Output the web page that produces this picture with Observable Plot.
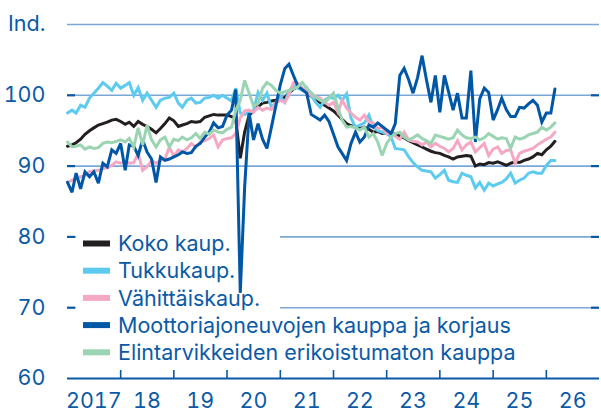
<!DOCTYPE html>
<html><head><meta charset="utf-8">
<script src="https://cdn.jsdelivr.net/npm/d3@7"></script>
<script src="https://cdn.jsdelivr.net/npm/@observablehq/plot@0.6"></script>
<style>
html,body{margin:0;padding:0;background:#fff;}
#chart{width:601px;height:414px;overflow:hidden}
</style></head><body><div id="chart"></div>
<script>
// Monthly index values, starting January 2017
const startYear = 2017;
const koko = [
  92.8, 93.0, 93.3, 93.8, 94.5, 95.0, 95.4, 95.8, 96.0, 96.2, 96.5, 96.6,
  96.3, 95.9, 96.2, 95.6, 96.3, 95.9, 95.6, 95.2, 94.7, 95.3, 96.0, 96.8,
  96.4, 95.6, 95.8, 96.0, 96.3, 96.2, 96.3, 96.9, 97.1, 97.3, 97.2, 97.2,
  97.2, 97.0, 96.6, 91.1, 94.8, 97.2, 97.8, 98.4, 98.9, 99.0, 99.2, 99.3,
  99.5, 99.7, 100.3, 100.9, 101.2, 100.8, 100.4, 99.9, 99.4, 99.0, 98.6, 98.2,
  97.8, 97.2, 96.6, 96.0, 95.7, 95.6, 95.3, 95.5, 95.2, 94.8, 94.9, 94.6,
  94.7, 94.5, 94.6, 94.2, 94.0, 93.6, 93.3, 93.0, 92.7, 92.4, 92.1, 91.9,
  91.8, 91.5, 91.3, 91.0, 91.3, 91.4, 91.5, 91.4, 90.0, 90.3, 90.2, 90.5,
  90.4, 90.6, 90.4, 90.1, 90.4, 90.6, 90.5, 90.8, 91.0, 91.3, 91.8, 91.6,
  92.3, 92.8, 93.5
];
const tukku = [
  97.5, 97.9, 97.5, 98.6, 98.3, 99.6, 100.3, 101.0, 101.8, 101.3, 100.7, 101.7,
  101.0, 101.4, 101.8, 100.0, 101.1, 99.3, 100.3, 99.3, 98.3, 99.3, 99.6, 99.7,
  100.3, 98.9, 98.3, 99.3, 99.6, 98.9, 99.0, 99.6, 99.7, 100.0, 99.6, 100.0,
  99.6, 99.2, 101.0, 97.5, 97.3, 97.6, 97.8, 100.4, 99.3, 100.3, 98.3, 99.0,
  99.8, 99.0, 100.5, 101.5, 101.0, 100.7, 101.1, 100.0, 99.0, 98.3, 99.3, 99.7,
  99.6, 100.0, 99.3, 100.2, 96.8, 95.5, 95.8, 96.1, 97.2, 95.5, 95.0, 94.8,
  94.6, 94.1, 92.5, 92.4, 92.3, 91.3, 90.5, 89.9, 89.4, 89.3, 89.2, 88.3,
  88.8, 89.4, 88.0, 87.8, 87.7, 89.0, 88.7, 88.5, 86.9, 87.7, 86.6, 87.6,
  87.2, 87.5, 87.7, 88.2, 89.0, 87.6, 88.0, 88.3, 89.0, 89.2, 89.0, 89.0,
  90.1, 90.8, 90.8
];
const vahittais = [
  87.7, 88.0, 88.3, 88.5, 88.7, 89.2, 89.3, 89.4, 89.6, 89.8, 90.1, 90.6,
  90.4, 90.6, 90.4, 90.5, 91.8, 89.4, 89.9, 90.8, 90.4, 90.8, 91.0, 92.7,
  91.4, 92.3, 92.0, 92.5, 93.2, 92.7, 93.4, 93.6, 93.9, 94.4, 92.7, 93.7,
  93.9, 94.0, 94.6, 96.8, 97.8, 97.9, 97.6, 98.3, 97.9, 98.2, 98.0, 98.9,
  99.3, 99.0, 100.0, 101.8, 101.7, 101.0, 100.6, 100.0, 99.8, 99.6, 99.0, 98.6,
  99.0, 97.6, 99.3, 98.2, 97.5, 96.9, 96.5, 97.2, 96.2, 96.1, 95.3, 95.5,
  94.6, 94.8, 94.2, 93.8, 94.8, 93.7, 93.5, 93.4, 93.0, 93.4, 92.7, 93.2,
  92.8, 92.5, 92.0, 92.5, 93.6, 92.3, 93.0, 93.4, 92.0, 92.6, 93.2, 91.5,
  92.4, 92.7, 91.8, 92.2, 92.3, 90.4, 91.8, 92.1, 92.3, 92.5, 93.0, 93.4,
  93.8, 94.1, 94.8
];
const moottori = [
  87.7, 86.3, 89.0, 86.8, 89.2, 88.5, 89.2, 87.6, 90.4, 89.9, 92.3, 91.8,
  93.2, 89.4, 93.0, 92.8, 91.5, 93.7, 92.0, 91.0, 87.7, 91.3, 90.8, 91.0,
  91.3, 91.6, 92.0, 91.8, 91.9, 92.8, 93.2, 94.1, 94.8, 96.1, 95.4, 95.6,
  97.2, 97.9, 100.8, 72.1, 87.0, 97.5, 93.7, 96.0, 93.8, 92.5, 95.5, 98.5,
  101.5, 103.8, 104.4, 102.8, 101.3, 100.8, 100.3, 97.3, 96.9, 96.5, 97.2, 96.3,
  94.5, 92.7, 91.8, 90.8, 93.2, 94.8, 93.4, 94.1, 95.8, 95.5, 96.1, 95.6,
  95.1, 94.6, 96.0, 102.8, 103.8, 102.2, 100.3, 102.5, 105.6, 102.2, 99.0, 102.8,
  97.6, 102.8, 100.5, 97.9, 100.3, 96.8, 96.8, 103.5, 93.4, 99.5, 101.0, 100.4,
  96.5, 98.0, 99.6, 98.0, 97.0, 97.0, 98.3, 98.2, 98.8, 99.3, 98.6, 96.2,
  97.5, 97.5, 100.9
];
const elintarvike = [
  93.4, 92.7, 92.8, 93.0, 92.4, 92.7, 92.5, 92.6, 93.2, 93.4, 93.3, 93.5,
  93.7, 93.4, 93.9, 92.7, 95.4, 93.0, 95.8, 93.7, 92.7, 93.7, 94.1, 92.7,
  93.8, 93.6, 94.1, 93.7, 94.0, 94.6, 93.9, 94.8, 94.5, 95.1, 94.8, 94.7,
  95.2, 95.5, 97.9, 99.3, 102.1, 100.3, 98.5, 98.8, 101.0, 101.8, 101.4, 100.7,
  100.3, 100.5, 100.7, 100.9, 101.2, 101.8, 101.0, 100.4, 99.7, 99.3, 99.0, 99.6,
  100.3, 98.2, 96.5, 95.5, 95.6, 95.4, 95.1, 95.5, 94.1, 94.6, 93.4, 91.5,
  93.2, 94.1, 94.6, 94.8, 94.1, 93.7, 94.0, 94.4, 93.9, 93.6, 93.2, 94.4,
  94.2, 94.0, 93.8, 94.0, 95.1, 94.4, 94.0, 93.9, 94.1, 93.7, 94.0, 94.6,
  94.2, 93.8, 94.0, 93.9, 92.5, 94.1, 93.8, 94.0, 94.4, 94.6, 94.8, 95.5,
  95.1, 95.5, 96.1
];
const seriesNames = ["Koko kaup.", "Tukkukaup.", "Vähittäiskaup.",
  "Moottoriajoneuvojen kauppa ja korjaus", "Elintarvikkeiden erikoistumaton kauppa"];
const seriesColors = ["#231f20", "#5ccbef", "#f5a8c4", "#0057a5", "#9ad4b2"];
const yTicks = [60, 70, 80, 90, 100, 110];
const gridValues = [70, 80, 90, 100, 110];
const edgeTickValues = [70, 80, 90, 100];
const years = [2017, 2018, 2019, 2020, 2021, 2022, 2023, 2024, 2025, 2026];
const yLabelTop = "Ind.";

const textColor = "#0b5aa6";
const axisColor = "#0a58a4";
const gridColor = "#7aa7d6";

const allSeries = [koko, tukku, vahittais, moottori, elintarvike];
const data = allSeries.map((arr, i) => arr.map((v, m) => ({
  series: seriesNames[i], date: new Date(Date.UTC(startYear, m, 1)), value: v
})));
const yearStarts = years.slice(1).map(y => new Date(Date.UTC(y, 0, 1)));
const midYears = years.map(y => new Date(Date.UTC(y, 6, 1)));

const W = 601, H = 414, ML = 67, MR = 2, MT = 24, MB = 36;
const plotW = W - ML - MR, plotH = H - MT - MB;
const FS = 21.5;

const plot = Plot.plot({
  width: W, height: H,
  marginLeft: ML, marginRight: MR, marginTop: MT, marginBottom: MB,
  style: {fontFamily: "Inter, 'Noto Sans', sans-serif", fontSize: FS + "px", color: textColor, background: "white", overflow: "visible"},
  x: {type: "utc", label: null, domain: [new Date(Date.UTC(years[0], 0, 1)), new Date(Date.UTC(years[years.length - 1] + 1, 0, 1))]},
  y: {label: null, domain: [yTicks[0], yTicks[yTicks.length - 1]]},
  marks: [
    Plot.ruleY(gridValues, {stroke: gridColor, strokeWidth: 1.6}),
    Plot.ruleY(edgeTickValues, {stroke: axisColor, strokeWidth: 2.2, insetRight: plotW - 8}),
    Plot.ruleY(edgeTickValues, {stroke: axisColor, strokeWidth: 2.2, insetLeft: plotW - 8}),
    Plot.ruleY([yTicks[0]], {stroke: axisColor, strokeWidth: 2.2}),
    Plot.ruleX(yearStarts, {stroke: axisColor, strokeWidth: 1.6, insetTop: plotH - 8}),
    Plot.axisY(yTicks, {label: null, tickSize: 0, tickPadding: 22, fill: textColor, fontSize: FS,
      tickFormat: d => d === yTicks[yTicks.length - 1] ? yLabelTop : String(d)}),
    Plot.axisX(midYears, {label: null, tickSize: 0, tickPadding: 14, fill: textColor, fontSize: FS,
      tickFormat: d => { const y = d.getUTCFullYear(); return y === years[0] ? String(y) : String(y).slice(2); }}),
    ...allSeries.map((_, i) => Plot.line(data[i], {x: "date", y: "value", stroke: seriesColors[i], strokeWidth: 3, strokeLinejoin: "miter", strokeMiterlimit: 3}))
  ]
});

// Legend inserted below the data lines, above the grid
const ns = "http://www.w3.org/2000/svg";
const lg = document.createElementNS(ns, "g");
const firstLine = plot.querySelector('g[aria-label="line"]');
if (firstLine) plot.insertBefore(lg, firstLine); else plot.appendChild(lg);
const g = d3.select(lg).attr("text-anchor", "start").attr("font-size", FS);
g.append("rect").attr("x", 76).attr("y", 226).attr("width", 204).attr("height", 88).attr("fill", "white");
seriesNames.forEach((name, i) => {
  const cy = 243.5 + i * 27.2;
  g.append("rect").attr("x", 83).attr("y", cy - 3).attr("width", 27).attr("height", 6).attr("fill", seriesColors[i]);
  g.append("text").attr("x", 118).attr("y", cy).attr("dy", "0.36em")
    .attr("text-anchor", "start").attr("fill", textColor).text(name);
});

document.getElementById("chart").appendChild(plot);
</script>
</body></html>
